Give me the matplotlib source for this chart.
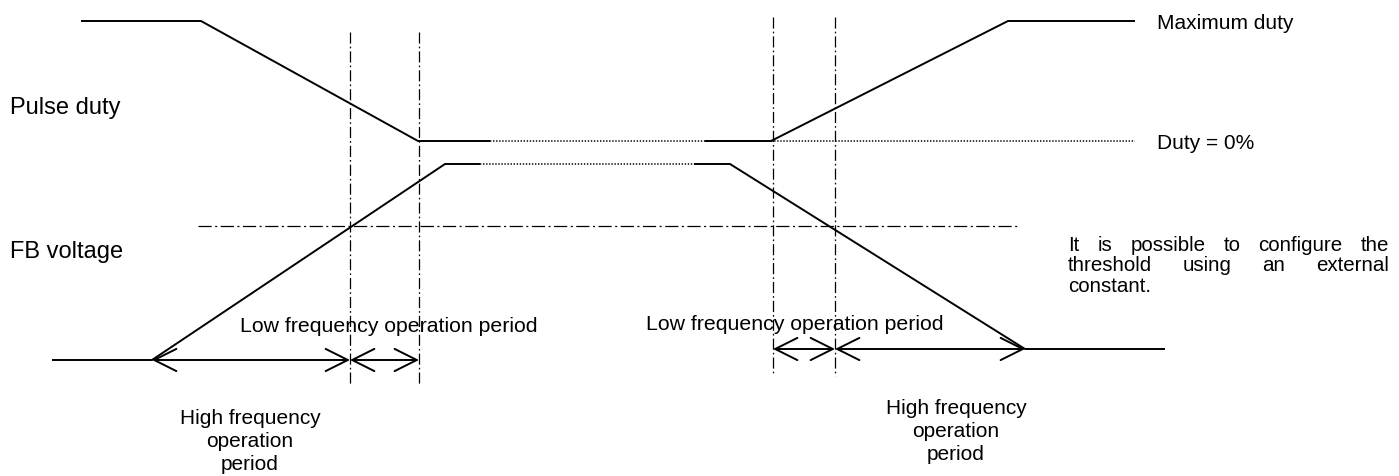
import matplotlib
matplotlib.use("Agg")
import matplotlib.pyplot as plt

plt.rcParams["font.family"] = ["Liberation Sans", "DejaVu Sans"]
plt.rcParams["lines.scale_dashes"] = False

W, H = 1399, 477

# ---- waveform data (diagram coordinates, y grows downward) ----
duty_left_x = [81, 201, 418, 490]
duty_left_y = [22, 22, 142, 142]
duty_right_x = [705, 771, 1008, 1135]
duty_right_y = [142, 142, 22, 22]
duty_zero_x = [490, 1135]
duty_zero_y = 142

fb_left_x = [52, 152, 445, 480]
fb_left_y = [361, 361, 165, 165]
fb_right_x = [694, 730, 1025, 1165]
fb_right_y = [165, 165, 350, 350]
fb_hold_x = [480, 694]
fb_hold_y = 165

threshold_x = [198, 1018]
threshold_y = 227

marker_x = [350, 419, 773, 835]
marker_top = [33, 33, 18, 18]
marker_bottom = [385, 387, 375, 377]

left_periods_x = [152, 350, 419]
left_periods_y = 361
right_periods_x = [773, 835, 1025]
right_periods_y = 350

# ---- text ----
signal_labels = ["Pulse duty", "FB voltage"]
signal_label_y = [114, 258]
level_labels = ["Maximum duty", "Duty = 0%"]
level_label_y = [29, 149]
note_lines = ["It is possible to configure the",
              "threshold using an external",
              "constant."]
low_label = "Low frequency operation period"
low_label_pos = [(240, 332), (646, 330)]
high_label_lines = ["High frequency", "operation", "period"]
high_label_pos = [(250, 424), (956, 414)]

fig = plt.figure(figsize=(W / 100, H / 100), dpi=100)
ax = fig.add_axes([0, 0, 1, 1])
ax.set_xlim(0, W)
ax.set_ylim(H, 0)
ax.axis("off")

solid = dict(color="black", lw=1.4, solid_capstyle="butt", solid_joinstyle="miter")
dotted = dict(color="black", lw=1.1, linestyle=(0, (1.0, 1.2)))
dashdot_v = dict(color="black", lw=0.9, linestyle=(0, (8, 2.2, 1.2, 2.2)))
dashdot_h = dict(color="black", lw=0.9, linestyle=(0, (9.5, 2.5, 1.5, 2.5)))

# dotted holds
ax.plot(duty_zero_x, [duty_zero_y] * 2, **dotted)
ax.plot(fb_hold_x, [fb_hold_y] * 2, **dotted)

# waveforms
ax.plot(duty_left_x, duty_left_y, **solid)
ax.plot(duty_right_x, duty_right_y, **solid)
ax.plot(fb_left_x, fb_left_y, **solid)
ax.plot(fb_right_x, fb_right_y, **solid)

# threshold and period markers
ax.plot(threshold_x, [threshold_y] * 2, **dashdot_h)
for x, t, b in zip(marker_x, marker_top, marker_bottom):
    ax.plot([x, x], [t, b], **dashdot_v)

# period arrows
arrow = dict(arrowstyle="<->,head_length=1.6,head_width=0.8", lw=1.4,
             color="black", shrinkA=0, shrinkB=0, mutation_scale=10)
for xs, y in [(left_periods_x, left_periods_y), (right_periods_x, right_periods_y)]:
    for a, b in zip(xs[:-1], xs[1:]):
        ax.annotate("", xy=(b, y), xytext=(a, y), arrowprops=arrow)

# labels
for s, y in zip(signal_labels, signal_label_y):
    ax.text(10, y, s, fontsize=17, ha="left", va="baseline")
for s, y in zip(level_labels, level_label_y):
    ax.text(1157, y, s, fontsize=15, ha="left", va="baseline")
for (x, y) in low_label_pos:
    ax.text(x, y, low_label, fontsize=15.3, ha="left", va="baseline")
for (x, y) in high_label_pos:
    for i, s in enumerate(high_label_lines):
        ax.text(x, y + i * 23, s, fontsize=15, ha="center", va="baseline")

# justified note paragraph
fig.canvas.draw()
r = fig.canvas.get_renderer()
note_x0, note_x1 = 1068, 1389
note_y0, note_step = 251, 20.5
note_size = 14.8
for i, line in enumerate(note_lines):
    y = note_y0 + i * note_step
    words = line.split()
    if i == len(note_lines) - 1 or len(words) == 1:
        ax.text(note_x0, y, line, fontsize=note_size, ha="left", va="baseline")
        continue
    texts = [ax.text(0, y, w, fontsize=note_size, ha="left", va="baseline") for w in words]
    widths = [t.get_window_extent(r).width for t in texts]
    gap = (note_x1 - note_x0 - sum(widths)) / (len(words) - 1)
    x = note_x0
    for t, w in zip(texts, widths):
        t.set_x(x)
        x += w + gap

fig.savefig("out.png", dpi=100)
